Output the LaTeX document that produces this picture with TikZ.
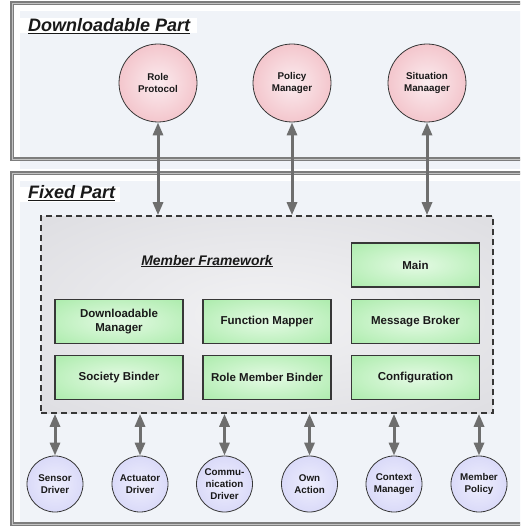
\documentclass[tikz,border=0pt]{standalone}
\usepackage{fontspec}
\setmainfont{Liberation Sans}
\usetikzlibrary{arrows.meta}
\definecolor{pinkin}{RGB}{251,236,239}
\definecolor{pinkout}{RGB}{236,160,170}
\definecolor{greenin}{RGB}{228,250,228}
\definecolor{greenout}{RGB}{150,230,150}
\definecolor{purpin}{RGB}{238,238,253}
\definecolor{purpout}{RGB}{198,198,244}
\definecolor{grayin}{RGB}{242,242,244}
\definecolor{grayout}{RGB}{214,214,219}
\definecolor{bgfill}{RGB}{240,243,248}
\definecolor{framecol}{RGB}{125,125,125}
\definecolor{framein}{RGB}{195,195,195}
\definecolor{arrcol}{RGB}{110,110,110}
\definecolor{txt}{RGB}{25,25,25}
\definecolor{edge}{RGB}{55,55,55}
\pgfdeclareradialshading{pinksh}{\pgfpoint{0bp}{0bp}}{color(0bp)=(pinkin); color(50bp)=(pinkout); color(72bp)=(pinkout)}
\pgfdeclareradialshading{greensh}{\pgfpoint{0bp}{0bp}}{color(0bp)=(greenin); color(50bp)=(greenout); color(72bp)=(greenout)}
\pgfdeclareradialshading{purpsh}{\pgfpoint{0bp}{0bp}}{color(0bp)=(purpin); color(50bp)=(purpout); color(72bp)=(purpout)}
\pgfdeclareradialshading{graysh}{\pgfpoint{0bp}{0bp}}{color(0bp)=(grayin); color(50bp)=(grayout); color(72bp)=(grayout)}
\tikzset{
  frame/.style={draw=framecol, line width=1.2pt, double=framein, double distance=0.8pt},
  bgbox/.style={fill=bgfill},
  titletext/.style={font=\fontsize{18}{20}\selectfont\bfseries\itshape, text=txt, inner sep=0pt},
  pinkc/.style={circle, draw=edge, line width=0.8pt, shading=pinksh, minimum size=78pt, inner sep=0pt, align=center, text=txt, font=\fontsize{9.8}{11.8}\selectfont\bfseries},
  purpc/.style={circle, draw=edge, line width=0.8pt, shading=purpsh, minimum size=56pt, inner sep=0pt, align=center, text=txt, font=\fontsize{9.8}{11.8}\selectfont\bfseries},
  gbox/.style={rectangle, draw=edge, line width=1.5pt, shading=greensh, minimum width=128pt, minimum height=44pt, inner sep=0pt, align=center, text=txt, font=\fontsize{11.5}{13.7}\selectfont\bfseries},
  fwbox/.style={rectangle, draw=edge, line width=1.6pt, dash pattern=on 6pt off 4pt, shading=graysh, minimum width=452pt, minimum height=197pt, inner sep=0pt},
  arr/.style={draw=arrcol, line width=3pt, {Triangle[width=10pt,length=13pt]}-{Triangle[width=10pt,length=13pt]}}
}
\begin{document}
\begin{tikzpicture}[x=1pt,y=-1pt]
\clip (0,0) rectangle (520,529);
\fill[white] (0,0) rectangle (520,529);
% Downloadable part
\fill[bgbox] (20,11) rectangle (530,169);
\draw[frame] (12,3) rectangle (530,159);
\fill[white] (20,18) rectangle (197,33);
\node[titletext, anchor=base west] (dltitle) at (28,31.5) {\underline{Downloadable Part}};
% Fixed part
\fill[bgbox] (20,181) rectangle (530,524);
\draw[frame] (12,173) rectangle (530,524);
\fill[white] (20,187) rectangle (120,202);
\node[titletext, anchor=base west] (fxtitle) at (28,199) {\underline{Fixed Part}};
% Member framework
\node[fwbox] (fw) at (267,314.5) {};
\node[font=\fontsize{13.9}{16}\selectfont\bfseries\itshape, text=txt, inner sep=0pt, anchor=base] (fwlabel) at (207,265) {\underline{Member Framework}};
\node[gbox] (main) at (415.5,265) {Main};
\node[gbox] (dm) at (119,321.5) {Downloadable\\Manager};
\node[gbox] (fm) at (267,321.5) {Function Mapper};
\node[gbox] (mb) at (415.5,321.5) {Message Broker};
\node[gbox] (sb) at (119,377.5) {Society Binder};
\node[gbox] (rmb) at (267,377.5) {Role Member Binder};
\node[gbox] (cf) at (415.5,377.5) {Configuration};
% Downloadable circles
\node[pinkc] (rp) at (158,83) {Role\\Protocol};
\node[pinkc] (pm) at (292,83) {Policy\\Manager};
\node[pinkc] (sm) at (427,83) {Situation\\Manaager};
% Bottom circles
\node[purpc] (sd) at (55,484) {Sensor\\Driver};
\node[purpc] (ad) at (140,484) {Actuator\\Driver};
\node[purpc] (cd) at (224.5,484) {Commu-\\nication\\Driver};
\node[purpc] (oa) at (309.5,484) {Own\\Action};
\node[purpc] (cm) at (394,484) {Context\\Manager};
\node[purpc] (mp) at (479,484) {Member\\Policy};
% Arrows
\foreach \n in {rp,pm,sm}{
  \draw[arr] (\n) -- (\n |- fw.north);
}
\foreach \n in {sd,ad,cd,oa,cm,mp}{
  \draw[arr] (fw.south -| \n) -- (\n);
}
\end{tikzpicture}
\end{document}
